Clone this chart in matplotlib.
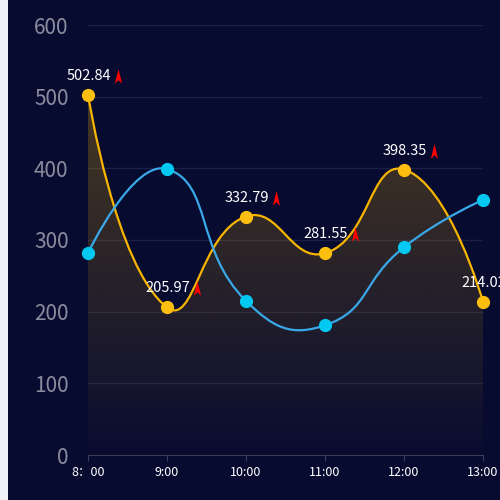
import numpy as np
import matplotlib
matplotlib.use("Agg")
import matplotlib.pyplot as plt
from matplotlib.path import Path
from matplotlib.patches import PathPatch, Rectangle
from matplotlib.transforms import offset_copy

# --- données ---
heures = ["8：00", "9:00", "10:00", "11:00", "12:00", "13:00"]
serie_jaune = [502.84, 205.97, 332.79, 281.55, 398.35, 214.02]
serie_bleue = [282, 399, 215, 181, 290, 356]

plt.rcParams["font.family"] = ["Noto Sans CJK SC", "DejaVu Sans"]

FOND = "#070b30"
JAUNE = "#f7b500"
JAUNE_PT = "#fdbf0f"
BLEU = "#3aa8e8"
BLEU_PT = "#00c8f0"

fig = plt.figure(figsize=(5, 5), dpi=100)
fig.patch.set_facecolor(FOND)
fig.patches.append(Rectangle((0, 0), 8 / 500, 1, transform=fig.transFigure,
                             facecolor="#f0f2f8", edgecolor="none", zorder=-1))
ax = fig.add_axes([88 / 500, 45 / 500, 395 / 500, 430 / 500])
ax.set_facecolor(FOND)
ax.set_xlim(0, len(heures) - 1)
ax.set_ylim(0, 600)

# échelle en pixels pour le lissage (comme echarts)
sx = 395 / (len(heures) - 1)
sy = 430 / 600


def chemin_lisse(vals, smooth=0.5):
    pts = [(i * sx, v * sy) for i, v in enumerate(vals)]
    n = len(pts)
    verts = [pts[0]]
    codes = [Path.MOVETO]
    cp0 = pts[0]
    for i in range(1, n):
        x, y = pts[i]
        if i < n - 1:
            px, py = pts[i - 1]
            nx, ny = pts[i + 1]
            dx, dy = nx - px, ny - py
            lp = np.hypot(x - px, y - py)
            ln = np.hypot(x - nx, y - ny)
            r = ln / (ln + lp)
            cp1 = (x - dx * smooth * (1 - r), y - dy * smooth * (1 - r))
            ncp0 = (x + dx * smooth * r, y + dy * smooth * r)
        else:
            cp1 = (x, y)
            ncp0 = (x, y)
        verts += [cp0, cp1, (x, y)]
        codes += [Path.CURVE4] * 3
        cp0 = ncp0
    verts = [(a / sx, b / sy) for a, b in verts]
    return verts, codes


# aire dégradée sous la courbe jaune
v, c = chemin_lisse(serie_jaune)
v_aire = v + [(len(heures) - 1, 0), (0, 0), v[0]]
c_aire = c + [Path.LINETO, Path.LINETO, Path.CLOSEPOLY]
aire = PathPatch(Path(v_aire, c_aire), facecolor="none", edgecolor="none")
ax.add_patch(aire)
grad = np.zeros((256, 1, 4))
grad[:, 0, :3] = matplotlib.colors.to_rgb(JAUNE)
grad[:, 0, 3] = np.linspace(0.27, 0.01, 256)
img = ax.imshow(grad, extent=[0, len(heures) - 1, 0, max(serie_jaune)],
                aspect="auto", zorder=1, origin="upper")
img.set_clip_path(aire)

ax.add_patch(PathPatch(Path(v, c), facecolor="none", edgecolor=JAUNE, lw=1.6, zorder=3))
vb, cb = chemin_lisse(serie_bleue)
ax.add_patch(PathPatch(Path(vb, cb), facecolor="none", edgecolor=BLEU, lw=1.6, zorder=3))

x = np.arange(len(heures))
ax.plot(x, serie_bleue, "o", color=BLEU_PT, ms=8.5, zorder=4, clip_on=False)
ax.plot(x, serie_jaune, "o", color=JAUNE_PT, ms=8.5, zorder=5, clip_on=False)

# étiquettes + flèche rouge
fleche = Path([(0, 1), (0.5, -1), (0, -0.5), (-0.5, -1), (0, 1)],
              [Path.MOVETO, Path.LINETO, Path.LINETO, Path.LINETO, Path.CLOSEPOLY])
tr_fleche = offset_copy(ax.transData, fig=fig, x=30, y=19, units="dots")
for i, val in enumerate(serie_jaune):
    ax.annotate(f"{val:.2f}", (i, val), xytext=(23 * 0.72, 19 * 0.72),
                textcoords="offset points", ha="right", va="center",
                color="white", fontsize=10.5, zorder=6, annotation_clip=False)
    ax.plot([i], [val], marker=fleche, color="#ff0000", ms=10.5, mew=0,
            transform=tr_fleche, clip_on=False, zorder=6)

# axes
for s in ["top", "right", "left"]:
    ax.spines[s].set_visible(False)
ax.spines["bottom"].set_color("#3b3e55")
ax.set_yticks(range(0, 700, 100))
ax.set_xticks(x)
ax.set_xticklabels(heures)
ax.tick_params(axis="y", length=0, colors="#8a8c9e", labelsize=15, pad=14)
ax.tick_params(axis="x", length=4, color="#3b3e55", labelcolor="white", labelsize=9, pad=4)
for yv in range(100, 700, 100):
    ax.axhline(yv, color="#1c2046", lw=1, zorder=0.5)

plt.savefig("out.png", dpi=100, facecolor=FOND)
